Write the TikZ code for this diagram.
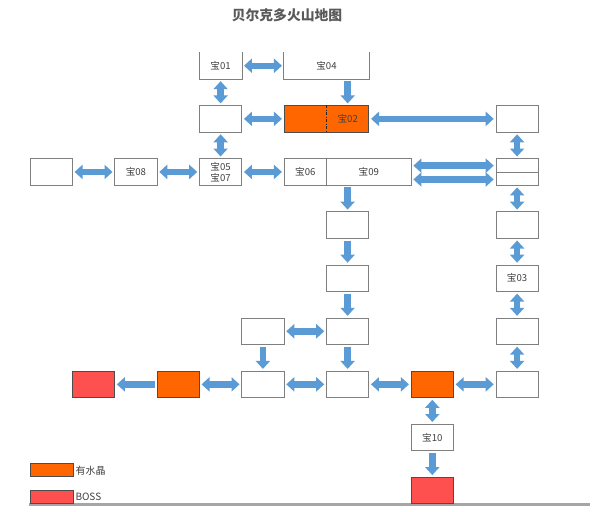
\documentclass[tikz,border=0pt]{standalone}
\usepackage{fontspec}
\setmainfont{Noto Sans CJK SC}
\usetikzlibrary{arrows.meta}
\definecolor{arrowblue}{HTML}{5B9BD5}
\definecolor{crystalorange}{HTML}{FF6600}
\definecolor{bossred}{HTML}{FF5050}
\definecolor{boxgray}{HTML}{7F7F7F}
\definecolor{textgray}{HTML}{404040}
\definecolor{titlegray}{HTML}{595959}
\definecolor{linegray}{HTML}{A6A6A6}
\begin{document}
\begin{tikzpicture}[x=1pt,y=-1pt,
  cell/.style={draw=boxgray, line width=0.8pt, fill=white, minimum width=42.35pt,
    minimum height=26.5pt, inner sep=0pt, font=\fontsize{9.6}{10}\selectfont, text=textgray},
  wide/.style={cell, minimum width=84.7pt},
  crystal/.style={fill=crystalorange, draw=black!70},
  boss/.style={fill=bossred, draw=black!70},
  opencell/.style={draw=none, fill=none},
  conn/.style={line width=6.5pt, draw=arrowblue, shorten <=1.8pt, shorten >=1.8pt},
  one/.style={conn, -{Triangle[width=14pt,length=8pt]}},
  two/.style={conn, {Triangle[width=14pt,length=8pt]}-{Triangle[width=14pt,length=8pt]}},
  legtext/.style={anchor=west, inner sep=0pt, font=\fontsize{10}{11}\selectfont, text=textgray},
]
\useasboundingbox[fill=white] (0,0) rectangle (593,511);

% title
\node[font=\fontsize{13.8}{15}\selectfont\bfseries, text=titlegray] (title) at (287,15) {贝尔克多火山地图};

% bottom line
\draw[line width=2.2pt, draw=linegray] (29,504.5) -- (590,504.5);

% row 1 (open at the top)
\node[cell, opencell] (b01) at (220.6,65.75) {宝01};
\node[wide, opencell] (b04) at (326.5,65.75) {宝04};
\draw[boxgray, line width=0.8pt] (b01.north west) -- (b01.south west) -- (b01.south east) -- (b01.north east);
\draw[boxgray, line width=0.8pt] (b04.north west) -- (b04.south west) -- (b04.south east) -- (b04.north east);

% row 2
\node[cell] (c2) at (220.6,118.85) {};
\node[wide, crystal, label={[xshift=21.2pt, font=\fontsize{9.6}{10}\selectfont, text=textgray]center:宝02}] (b02) at (326.5,118.85) {};
\draw[black!85, line width=1.2pt, dash pattern=on 3pt off 1.5pt on 1pt off 1.5pt] (b02.north) -- (b02.south);
\node[cell] (g2) at (517.1,118.85) {};

% row 3
\node[cell] (a3) at (51.2,171.95) {};
\node[cell] (b08) at (135.9,171.95) {宝08};
\node[cell, align=center, font=\fontsize{9.6}{11.5}\selectfont] (b0507) at (220.6,171.95) {宝05\\宝07};
\node[cell] (b06) at (305.3,171.95) {宝06};
\node[wide] (b09) at (368.85,171.95) {宝09};
\node[cell] (g3) at (517.1,171.95) {};
\draw[boxgray, line width=0.8pt] (g3.west) -- (g3.east);

% row 4, 5
\node[cell] (e4) at (347.6,225.05) {};
\node[cell] (g4) at (517.1,225.05) {};
\node[cell] (e5) at (347.6,278.15) {};
\node[cell] (b03) at (517.1,278.15) {宝03};

% row 6
\node[cell] (cp6) at (262.9,331.25) {};
\node[cell] (e6) at (347.6,331.25) {};
\node[cell] (g6) at (517.1,331.25) {};

% row 7
\node[cell, boss] (r7) at (93.5,384.35) {};
\node[cell, crystal] (o7) at (178.2,384.35) {};
\node[cell] (cp7) at (262.9,384.35) {};
\node[cell] (e7) at (347.6,384.35) {};
\node[cell, crystal] (f7) at (432.3,384.35) {};
\node[cell] (g7) at (517.1,384.35) {};

% row 8, 9
\node[cell] (b10) at (432.3,437.45) {宝10};
\node[cell, boss] (boss9) at (432.3,490.55) {};

% connectors
\draw[two] (b01.east) -- (b04.west);
\draw[two] (b01.south) -- (c2.north);
\draw[one] ([xshift=21.2pt]b04.south) -- ([xshift=21.2pt]b02.north);
\draw[two] (c2.east) -- (b02.west);
\draw[two] (b02.east) -- (g2.west);
\draw[two] (c2.south) -- (b0507.north);
\draw[two] (g2.south) -- (g3.north);
\draw[two] (a3.east) -- (b08.west);
\draw[two] (b08.east) -- (b0507.west);
\draw[two] (b0507.east) -- (b06.west);
\draw[two] ([yshift=6.3pt]b09.east) -- ([yshift=6.3pt]g3.west);
\draw[two] ([yshift=-7.5pt]b09.east) -- ([yshift=-7.5pt]g3.west);
\draw[two] (g3.south) -- (g4.north);
\draw[one] ([xshift=-21.25pt]b09.south) -- (e4.north);
\draw[one] (e4.south) -- (e5.north);
\draw[one] (e5.south) -- (e6.north);
\draw[two] (g4.south) -- (b03.north);
\draw[two] (b03.south) -- (g6.north);
\draw[two] (cp6.east) -- (e6.west);
\draw[one] (cp6.south) -- (cp7.north);
\draw[one] (e6.south) -- (e7.north);
\draw[two] (g6.south) -- (g7.north);
\draw[one] (o7.west) -- (r7.east);
\draw[two] (o7.east) -- (cp7.west);
\draw[two] (cp7.east) -- (e7.west);
\draw[two] (e7.east) -- (f7.west);
\draw[two] (f7.east) -- (g7.west);
\draw[two] (f7.south) -- (b10.north);
\draw[one] (b10.south) -- (boss9.north);

% legend
\node[cell, crystal, minimum width=43pt, minimum height=13pt, anchor=west] (lg1) at (29.5,470.3) {};
\node[legtext] (lg1t) at ([xshift=2pt]lg1.east) {有水晶};
\node[cell, boss, minimum width=43pt, minimum height=13pt, anchor=west] (lg2) at (29.5,496.8) {};
\node[legtext] (lg2t) at ([xshift=2pt]lg2.east) {BOSS};
\end{tikzpicture}
\end{document}
